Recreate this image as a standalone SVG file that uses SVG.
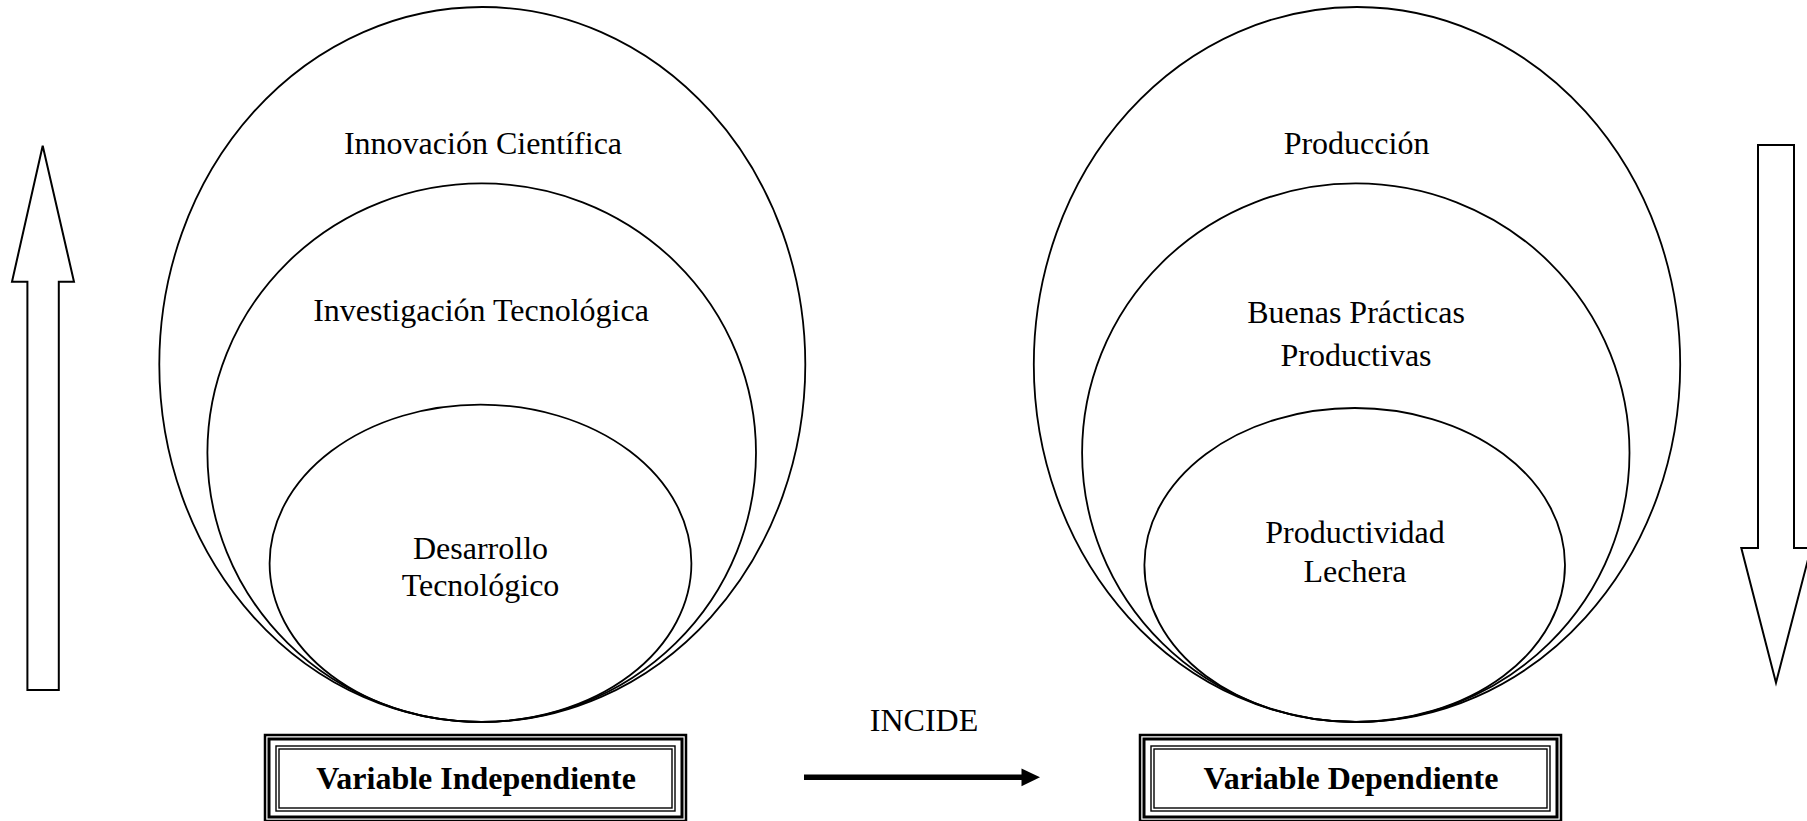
<svg xmlns="http://www.w3.org/2000/svg" width="1807" height="821" viewBox="0 0 1807 821">
<style>
  .ell{fill:none;stroke:#000;stroke-width:1.8}
  .lbl{font-family:"Liberation Serif","Times New Roman",serif;font-size:32px;fill:#000;text-anchor:middle}
  .bold{font-weight:bold}
  .blk{fill:#fff;stroke:#000;stroke-width:2}
  .b1{fill:none;stroke:#000;stroke-width:2.5}
  .b2{fill:none;stroke:#000;stroke-width:3}
  .b3{fill:none;stroke:#000;stroke-width:1.4}
</style>
<rect width="1807" height="821" fill="#fff"/>
<g id="outer-left">
  <ellipse class="ell" cx="482.3" cy="364.5" rx="323" ry="357.5"/>
  <text class="lbl" x="483" y="154">Innovación Científica</text>
</g>
<g id="middle-left">
  <ellipse class="ell" cx="481.7" cy="452.7" rx="274.3" ry="269.3"/>
  <text class="lbl" x="481" y="321">Investigación Tecnológica</text>
</g>
<g id="inner-left">
  <ellipse class="ell" cx="480.5" cy="563.3" rx="210.9" ry="158.7"/>
  <text class="lbl" x="480.5" y="559">Desarrollo</text>
  <text class="lbl" x="480.5" y="595.5">Tecnológico</text>
</g>
<g id="outer-right">
  <ellipse class="ell" cx="1357" cy="364.5" rx="323.2" ry="357.5"/>
  <text class="lbl" x="1356.5" y="154">Producción</text>
</g>
<g id="middle-right">
  <ellipse class="ell" cx="1355.8" cy="452.7" rx="273.7" ry="269.3"/>
  <text class="lbl" x="1356" y="323">Buenas Prácticas</text>
  <text class="lbl" x="1356" y="366">Productivas</text>
</g>
<g id="inner-right">
  <ellipse class="ell" cx="1354.7" cy="565" rx="210.3" ry="157"/>
  <text class="lbl" x="1355" y="542.5">Productividad</text>
  <text class="lbl" x="1355" y="581.5">Lechera</text>
</g>
<g id="arrow-up">
  <polygon class="blk" points="42.7,145.7 74,281.7 58.8,281.7 58.8,690 27.4,690 27.4,281.7 12,281.7"/>
</g>
<g id="arrow-down">
  <polygon class="blk" points="1758,145 1794,145 1794,548 1811,548 1776,682.7 1741.3,548 1758,548"/>
</g>
<g id="box-independiente">
  <rect class="b1" x="265" y="735" width="421" height="86"/>
  <rect class="b2" x="269" y="739" width="413" height="78"/>
  <rect class="b3" x="276" y="746" width="399" height="65"/>
  <rect class="b3" x="279" y="749" width="393" height="59"/>
  <text class="lbl bold" x="476" y="789">Variable Independiente</text>
</g>
<g id="box-dependiente">
  <rect class="b1" x="1140" y="735" width="421" height="86"/>
  <rect class="b2" x="1144" y="739" width="413" height="78"/>
  <rect class="b3" x="1151" y="746" width="399" height="65"/>
  <rect class="b3" x="1154" y="749" width="393" height="59"/>
  <text class="lbl bold" x="1351" y="789">Variable Dependiente</text>
</g>
<g id="connectors">
  <line x1="804" y1="777.3" x2="1024" y2="777.3" stroke="#000" stroke-width="5.5"/>
  <polygon points="1021.5,768.5 1040,777.3 1021.5,786.3" fill="#000"/>
  <text class="lbl" x="924" y="731">INCIDE</text>
</g>
</svg>
